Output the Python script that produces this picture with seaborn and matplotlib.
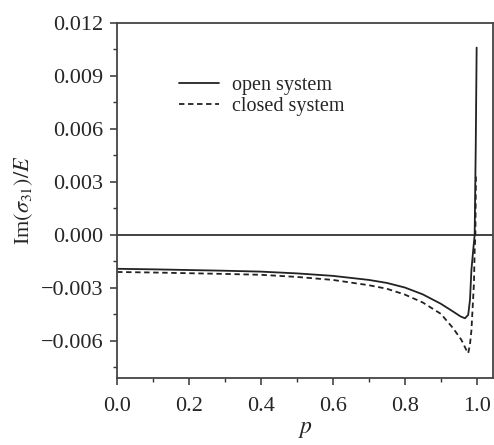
import pandas as pd
import seaborn as sns
import matplotlib.pyplot as plt
from matplotlib.ticker import MultipleLocator

# curve values
p_open = [0, 0.1, 0.2, 0.3, 0.4, 0.5, 0.6, 0.7, 0.75, 0.8, 0.85, 0.9, 0.934,
          0.955, 0.967, 0.976, 0.981, 0.985, 0.99, 0.994, 0.997, 0.9995]
im_open = [-0.00192, -0.00195, -0.00199, -0.00203, -0.00208, -0.00218, -0.00232,
           -0.00255, -0.00272, -0.00298, -0.00337, -0.0039, -0.00434, -0.00462,
           -0.00472, -0.00453, -0.00368, -0.00198, -0.00085, 0.0, 0.005, 0.0106]

p_closed = [0, 0.1, 0.2, 0.3, 0.4, 0.5, 0.6, 0.7, 0.75, 0.8, 0.85, 0.9, 0.934,
            0.957, 0.97, 0.976, 0.981, 0.985, 0.992, 0.994, 0.996, 0.9975]
im_closed = [-0.0021, -0.00213, -0.00217, -0.00221, -0.00226, -0.00238, -0.00255,
             -0.00285, -0.00305, -0.00338, -0.00383, -0.00447, -0.00528, -0.00594,
             -0.00648, -0.0067, -0.0062, -0.0054, -0.00274, -0.00085, 0.0, 0.0033]

labels = ["open system", "closed system"]
xticks = [0.0, 0.2, 0.4, 0.6, 0.8, 1.0]
yticks = [-0.006, -0.003, 0.0, 0.003, 0.006, 0.009, 0.012]

df = pd.concat([
    pd.DataFrame({"p": p_open, "val": im_open, "system": labels[0]}),
    pd.DataFrame({"p": p_closed, "val": im_closed, "system": labels[1]}),
])

sns.set_style("ticks")
plt.rcParams['font.family'] = ['Liberation Serif', 'DejaVu Serif']
plt.rcParams['mathtext.fontset'] = 'stix'

fig = plt.figure(figsize=(4.94, 4.45), dpi=100)
ax = fig.add_axes([0.237, 0.1506, 0.761, 0.798])

sns.lineplot(data=df, x="p", y="val", style="system", sort=False, estimator=None,
             color="#222222", linewidth=1.3,
             dashes={labels[0]: "", labels[1]: (3, 2)}, ax=ax)

ax.axhline(0, color="#222222", linewidth=1.2)

ax.set_xlim(0, 1.045)
ax.set_ylim(-0.0081, 0.012)
ax.set_xticks(xticks)
ax.set_xticklabels([f"{v:.1f}" for v in xticks])
ax.set_yticks(yticks)
ax.set_yticklabels([f"{v:.3f}".replace("-", "\u2212") for v in yticks])
ax.xaxis.set_minor_locator(MultipleLocator(0.1))
ax.yaxis.set_minor_locator(MultipleLocator(0.0015))
ax.tick_params(which="major", length=5, width=1.1, labelsize=16, pad=5, color="#333333")
ax.tick_params(axis="x", which="major", pad=9)
ax.tick_params(which="minor", length=3, width=1.0, color="#333333")

for s in ax.spines.values():
    s.set_color("#444444")
    s.set_linewidth(1.3)

ax.set_xlabel("$p$", fontsize=17, labelpad=2)
ax.set_ylabel(r"Im$(\sigma_{31})/E$", fontsize=16, labelpad=4)

leg = ax.legend(loc="upper left", bbox_to_anchor=(0.165, 0.85), frameon=False,
                fontsize=14.5, handlelength=2.0, handletextpad=0.65,
                labelspacing=0.1, borderpad=0, borderaxespad=0)

fig.savefig("out.png", dpi=100)
